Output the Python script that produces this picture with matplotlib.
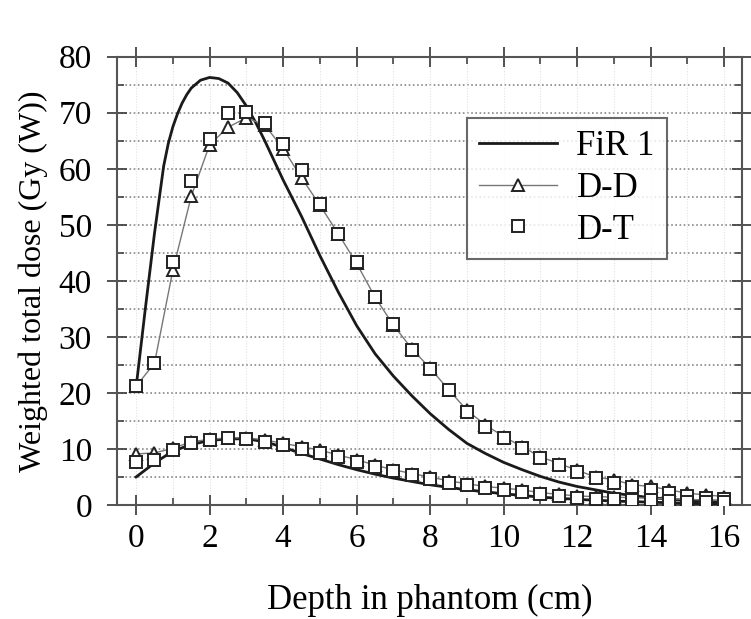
import matplotlib
matplotlib.use("Agg")
import matplotlib.pyplot as plt
from matplotlib.ticker import MultipleLocator
import numpy as np

plt.rcParams['font.family'] = ['Liberation Serif', 'DejaVu Serif']

# FiR 1 (solid lines): tumour curve and healthy-tissue curve
fir_x_hi = [0, 0.25, 0.5, 0.75, 0.875, 1, 1.125, 1.25, 1.375, 1.5, 1.75, 2, 2.25, 2.5, 2.75, 3, 3.25,
            3.5, 4, 4.5, 5, 5.5, 6, 6.5, 7, 7.5, 8, 8.5, 9, 9.5, 10, 10.5, 11, 11.5, 12, 13, 14, 15, 16]
fir_y_hi = [21, 35, 48.5, 60.5, 64.5, 67.5, 69.8, 71.7, 73.2, 74.4, 75.8, 76.3, 76.1, 75.3, 73.6, 71.2, 68.3,
            65, 58, 51.5, 44.5, 38, 32, 27, 23, 19.5, 16.3, 13.5, 11, 9.2, 7.6, 6.3, 5.1, 4.1, 3.3,
            2.1, 1.3, 0.8, 0.5]
fir_x_lo = [0, 0.5, 1, 1.5, 2, 2.5, 3, 3.5, 4, 4.5, 5, 5.5, 6, 6.5, 7, 7.5, 8, 9, 10, 11, 12, 13, 14, 15, 16]
fir_y_lo = [5, 7.5, 9.6, 10.8, 11.5, 11.8, 11.8, 11.3, 10.3, 9.2, 8.2, 7.2, 6.3, 5.5, 4.8, 4.2,
            3.6, 2.7, 2.0, 1.4, 1.0, 0.7, 0.5, 0.3, 0.2]

# D-D and D-T (markers) at 0.5 cm steps
depth = [i * 0.5 for i in range(33)]
dd_hi = [21.2, 25.3, 41.9, 55.1, 64.3, 67.4, 69.1, 67.8, 63.6, 58.4, 53.5, 48.4, 43.1, 37.1, 32.1,
         27.9, 24.4, 20.6, 16.9, 14.3, 12.2, 10.4, 8.6, 7.4, 6.2, 5.0, 4.5, 3.6, 3.3, 2.7, 2.1, 1.8, 1.5]
dt_hi = [21.2, 25.3, 43.3, 57.9, 65.4, 69.9, 70.2, 68.2, 64.5, 59.7, 53.8, 48.4, 43.3, 37.2, 32.3,
         27.7, 24.2, 20.6, 16.6, 14.0, 12.0, 10.2, 8.4, 7.1, 5.9, 4.8, 4.0, 3.2, 2.6, 2.1, 1.6, 1.3, 1.0]
dd_lo = [9.1, 9.3, 10.1, 11.3, 11.7, 12.0, 12.0, 11.6, 11.0, 10.4, 9.8, 8.9, 8.1, 7.1, 6.3, 5.6,
         5.0, 4.3, 3.8, 3.3, 3.0, 2.7, 2.2, 1.9, 1.6, 1.5, 1.4, 1.3, 1.2, 1.1, 1.0, 0.9, 0.9]
dt_lo = [7.7, 8.0, 9.9, 11.0, 11.6, 11.9, 11.8, 11.3, 10.7, 10.0, 9.3, 8.5, 7.7, 6.8, 6.0, 5.3,
         4.7, 4.0, 3.5, 3.0, 2.6, 2.3, 1.9, 1.6, 1.3, 1.1, 1.0, 0.9, 0.8, 0.7, 0.6, 0.5, 0.5]

fig = plt.figure(figsize=(7.51, 6.19), dpi=100)
ax = fig.add_axes([0.1558, 0.1842, 0.832, 0.7242])

ax.set_xlim(-0.52, 16.48)
ax.set_ylim(0, 80)

# grid
for v in np.arange(5, 80, 5):
    ax.axhline(v, color='#888888', lw=1.2, ls=(0, (1, 1.5)), zorder=0)
for v in range(0, 17):
    ax.axvline(v, color='#e2e2e2', lw=0.8, ls=(0, (1, 1.5)), zorder=0)

ln_fir, = ax.plot(fir_x_hi, fir_y_hi, color='#1a1a1a', lw=2.0, zorder=3, label='FiR 1')
ax.plot(fir_x_lo, fir_y_lo, color='#1a1a1a', lw=2.0, zorder=3)

mk = dict(markersize=8, markerfacecolor='white', markeredgecolor='#222222', markeredgewidth=1.4)
ln_dd, = ax.plot(depth, dd_hi, color='#777777', lw=1.0, marker='^', zorder=4, label='D-D', **mk)
ax.plot(depth, dd_lo, color='#777777', lw=1.0, marker='^', zorder=4, **mk)
ln_dt, = ax.plot(depth, dt_hi, ls='none', marker='s', zorder=5, label='D-T', **mk)
ax.plot(depth, dt_lo, ls='none', marker='s', zorder=5, **mk)

for s in ax.spines.values():
    s.set_color('#555555')
    s.set_linewidth(1.5)

ax.xaxis.set_major_locator(MultipleLocator(2))
ax.xaxis.set_minor_locator(MultipleLocator(1))
ax.yaxis.set_major_locator(MultipleLocator(10))
ax.yaxis.set_minor_locator(MultipleLocator(5))
ax.tick_params(which='major', direction='inout', length=14, width=1.3, color='#444444',
               top=True, right=True, labelsize=24, pad=6)
ax.tick_params(axis='y', which='major', pad=11)
ax.tick_params(which='minor', direction='in', length=5, width=1.2, color='#444444',
               top=True, right=True)

ax.set_xlabel('Depth in phantom (cm)', fontsize=25, labelpad=22)
ax.set_ylabel('Weighted total dose (Gy (W))', fontsize=23, labelpad=8)

leg = ax.legend(handles=[ln_fir, ln_dd, ln_dt], loc='upper left',
                bbox_to_anchor=((467 - 117) / 624.7, 1 - (118 - 56.7) / 448.3),
                fontsize=25, frameon=True, fancybox=False, handlelength=2.25,
                handletextpad=0.55, borderpad=0.35, labelspacing=0.25, borderaxespad=0)
leg.get_frame().set_edgecolor('#444444')
leg.get_frame().set_linewidth(1.5)

fig.savefig('out.png', dpi=100)
